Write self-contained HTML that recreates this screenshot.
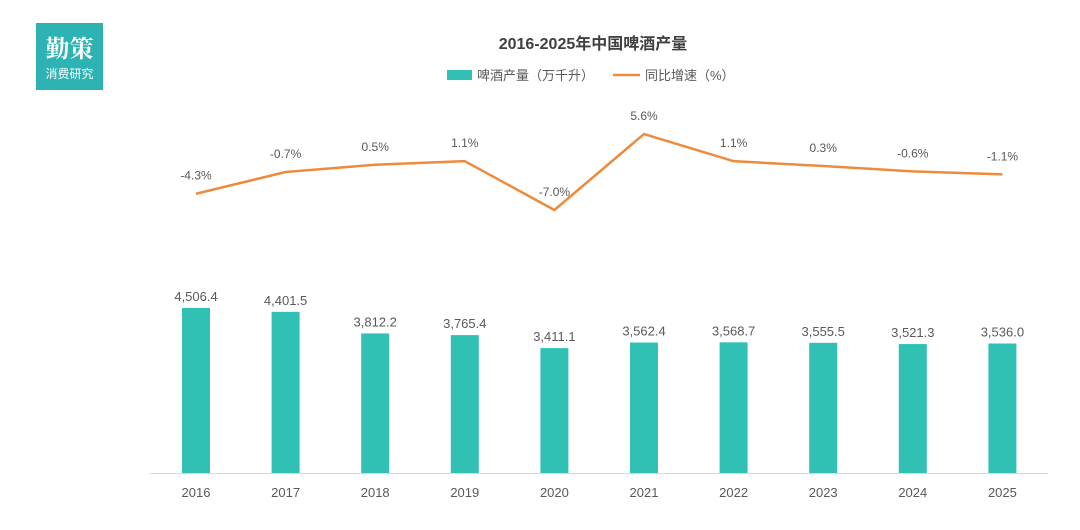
<!DOCTYPE html>
<html><head><meta charset="utf-8"><style>
body{margin:0;width:1080px;height:525px;background:#fff;overflow:hidden;font-family:"Liberation Sans","Noto Sans CJK SC",sans-serif;}
</style></head><body>
<svg width="1080" height="525" xmlns="http://www.w3.org/2000/svg" style="font-family:'Liberation Sans','Noto Sans CJK SC',sans-serif">
<g>
<rect x="36" y="23" width="67" height="67" fill="#2db3b3"/>
<text x="69.5" y="57" text-anchor="middle" font-size="24" font-weight="bold" fill="#fff" font-family="'Noto Serif CJK SC',serif">勤策</text>
<text x="69.5" y="78" text-anchor="middle" font-size="12" fill="#fff">消费研究</text>
</g>
<text x="593" y="49" text-anchor="middle" font-size="16" font-weight="bold" fill="#404040">2016-2025年中国啤酒产量</text>
<g>
<rect x="447" y="70" width="25" height="10" fill="#31c1b4"/>
<text x="477" y="80" font-size="13" fill="#595959">啤酒产量（万千升）</text>
<line x1="613" y1="75" x2="640" y2="75" stroke="#ed8b3c" stroke-width="2.5"/>
<text x="645" y="80" font-size="13" fill="#595959">同比增速（%）</text>
</g>
<line x1="150" y1="473.5" x2="1048" y2="473.5" stroke="#d9d9d9" stroke-width="1"/>
<g id="bars"></g><g id="line"></g><g id="labels"></g>
</svg>
<script>
const categories=["2016","2017","2018","2019","2020","2021","2022","2023","2024","2025"];
const production=[4506.4,4401.5,3812.2,3765.4,3411.1,3562.4,3568.7,3555.5,3521.3,3536.0];
const growth=[-4.3,-0.7,0.5,1.1,-7.0,5.6,1.1,0.3,-0.6,-1.1];
const NS="http://www.w3.org/2000/svg";
const xPos=i=>196+i*89.6;
const yBar=v=>473-v*0.03662;
const yLine=v=>167.8-v*6.03;
const bars=document.getElementById('bars'),lineG=document.getElementById('line'),labels=document.getElementById('labels');
function mk(tag,attrs,parent){const e=document.createElementNS(NS,tag);for(const k in attrs)e.setAttribute(k,attrs[k]);parent.appendChild(e);return e;}
production.forEach((v,i)=>{
 const r=mk('rect',{x:xPos(i)-14,y:yBar(v),width:28,height:473-yBar(v),fill:'#31c1b4'},bars);
 
 
 const t=mk('text',{x:xPos(i),y:yBar(v)-7,'text-anchor':'middle','font-size':13,fill:'#595959'},labels);
 t.textContent=v.toLocaleString('en-US',{minimumFractionDigits:1,maximumFractionDigits:1});
 
 
 const c=mk('text',{x:xPos(i),y:497,'text-anchor':'middle','font-size':13,fill:'#595959'},labels);
 c.textContent=categories[i];
 
 
});
const pts=growth.map((v,i)=>xPos(i)+','+yLine(v)).join(' ');
const pl=mk('polyline',{points:pts,fill:'none',stroke:'#ed8b3c','stroke-width':2.5,'stroke-linejoin':'round'},lineG);


growth.forEach((v,i)=>{
 const t=mk('text',{x:xPos(i),y:yLine(v)-14,'text-anchor':'middle','font-size':12,fill:'#595959'},labels);
 t.textContent=v.toFixed(1)+'%';
 
 
});
</script>
</body></html>
